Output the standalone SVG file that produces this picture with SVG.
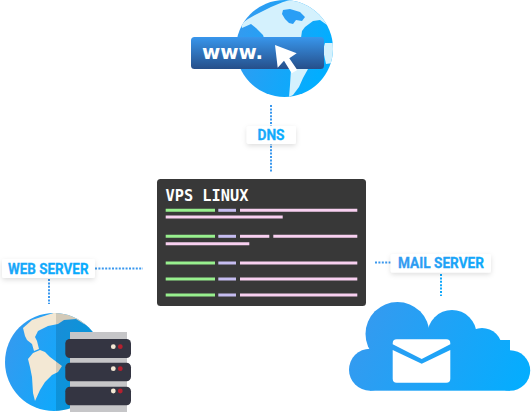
<svg xmlns="http://www.w3.org/2000/svg" width="531" height="412" viewBox="0 0 531 412">
<style>
.dot{fill:none;stroke-width:2;stroke-dasharray:2 1.4}
.lbl{fill:#fff;filter:url(#sh)}
.lt{font-family:"Roboto","Liberation Sans",sans-serif;font-weight:700;font-size:15.500px;stroke-width:.3}
.g{stroke:#98f08e}.b{stroke:#c6bdf0}.p{stroke:#f8d0f0}
.g,.b,.p{stroke-width:3}
</style>
<defs>
<linearGradient id="blu" x1="0" y1="0" x2="1" y2="0.35"><stop offset="0" stop-color="#3a98ee"/><stop offset="1" stop-color="#02aeff"/></linearGradient>
<linearGradient id="cloud" gradientUnits="userSpaceOnUse" x1="349" y1="302" x2="530" y2="391"><stop offset="0" stop-color="#3a98ee"/><stop offset="1" stop-color="#02aeff"/></linearGradient>
<linearGradient id="txt" x1="0" y1="0" x2="1" y2="0"><stop offset="0" stop-color="#1fa6f8"/><stop offset="1" stop-color="#05aeff"/></linearGradient>
<linearGradient id="txt2" x1="0" y1="0" x2="1" y2="0"><stop offset="0" stop-color="#3a98ee"/><stop offset="1" stop-color="#06adff"/></linearGradient>
<linearGradient id="bar" x1="0" y1="0" x2="0" y2="1"><stop offset="0" stop-color="#3896ec"/><stop offset="1" stop-color="#264f8a"/></linearGradient>
<filter id="sh" x="-20%" y="-40%" width="140%" height="200%"><feDropShadow dx="0" dy="2" stdDeviation="2.500" flood-color="#000" flood-opacity="0.13"/></filter>
<clipPath id="c1"><circle cx="284.500" cy="48.500" r="48.500"/></clipPath>
<clipPath id="c2"><circle cx="54" cy="362" r="49"/></clipPath>
</defs>
<g id="connectors">
<path class="dot" stroke="#3a98ee" d="M271 105V172"/>
<path class="dot" stroke="#3a98ee" d="M95 268.500H143"/>
<path class="dot" stroke="#3a98ee" d="M49 279V304"/>
<path class="dot" stroke="#3a98ee" d="M375 262.500H392"/>
<path class="dot" stroke="#10a8fb" d="M441 274V296"/>
</g>
<g id="dns-globe">
<circle cx="284.500" cy="48.500" r="48.500" fill="url(#blu)"/>
<g clip-path="url(#c1)" fill="#d4f1fd">
<path d="M241 24L248 19 255 15 261 12 271 7 283 2 290 0H315L335 14V22L327 25 320 20 313 21 305 27 302 31 301 38H264L263 35 256 28 251 24 242 28Z"/>
<path d="M325 43H340V62L326 64 323 50Z"/>
<path d="M291 69H308L303 78 299 87 293 95 289 97 290 85Z"/>
</g>
<path fill="#2a9ef5" d="M283 10L290 9 300 12 305 17 302 21 296 20 293 24 289 23 285 19 282 14Z"/>
<rect x="191" y="37" width="133" height="32" rx="3.500" fill="url(#bar)"/>
<text x="202" y="59.300" font-family="'DejaVu Sans',sans-serif" font-weight="700" font-size="20" fill="#fff" textLength="61" lengthAdjust="spacingAndGlyphs">www.</text>
<path fill="#fff" d="M275 45L296.700 53.300 289.300 58.300 297.300 70 291.700 73.300 284 60.700 277.700 67.700Z"/>
</g>
<g id="dns-label">
<rect class="lbl" x="246.700" y="126" width="49.300" height="18" rx="2"/>
<text class="lt" x="257.500" y="140" fill="url(#txt)" stroke="#10a8fb" textLength="27" lengthAdjust="spacingAndGlyphs">DNS</text>
</g>
<g id="vps">
<rect x="157" y="179" width="209" height="127" rx="3.500" fill="#383838"/>
<text x="165.500" y="200.500" font-family="'DejaVu Sans Mono',monospace" font-weight="700" font-size="15.300" fill="#fff">VPS LINUX</text>
<g id="code">
<line class="g" x1="165.700" y1="210.300" x2="215" y2="210.300"/><line class="b" x1="218.300" y1="210.300" x2="236" y2="210.300"/><line class="p" x1="240" y1="210.300" x2="357.300" y2="210.300"/>
<line class="p" x1="165.700" y1="217" x2="282.700" y2="217"/>
<line class="g" x1="165.700" y1="236.300" x2="215" y2="236.300"/><line class="b" x1="218.300" y1="236.300" x2="236" y2="236.300"/><line class="p" x1="240" y1="236.300" x2="269.300" y2="236.300"/><line class="p" x1="273.300" y1="236.300" x2="357.300" y2="236.300"/>
<line class="p" x1="165.700" y1="243.700" x2="249.300" y2="243.700"/>
<line class="g" x1="165.700" y1="263" x2="215" y2="263"/><line class="b" x1="218.300" y1="263" x2="236" y2="263"/><line class="p" x1="240" y1="263" x2="357.300" y2="263"/>
<line class="g" x1="165.700" y1="279" x2="215" y2="279"/><line class="b" x1="218.300" y1="279" x2="236" y2="279"/><line class="p" x1="240" y1="279" x2="357.300" y2="279"/>
<line class="g" x1="165.700" y1="295" x2="215" y2="295"/><line class="b" x1="218.300" y1="295" x2="236" y2="295"/><line class="p" x1="240" y1="295" x2="357.300" y2="295"/>
</g>
</g>
<g id="web-label">
<rect class="lbl" x="2" y="259" width="93" height="19" rx="2"/>
<text class="lt" x="8" y="274" fill="url(#txt)" stroke="#10a8fb" textLength="80.500" lengthAdjust="spacingAndGlyphs">WEB SERVER</text>
</g>
<g id="web-server">
<circle cx="54" cy="362" r="49" fill="url(#blu)"/>
<g clip-path="url(#c2)">
<path fill="#f3e8d4" d="M23 328L32 320 47 315 60 311H90V326L84 324 76 319 64 320 58 324 48 326 38 331 35 337 37 341 39 349 34 351 32 344 27 340 25 336Z"/>
<path fill="#f3e8d4" d="M28 359L33 353 40 350 45 352 50 357 62 366 58 372 52 375 45 382 40 390 35 401 33 393 32 377 30 367Z"/>
<path fill="#000" fill-opacity=".13" d="M56 310H110V415H56Z"/>
</g>
<rect x="70" y="332" width="57" height="80" fill="#c6c6c8"/>
<g fill="#343542">
<rect x="65.300" y="339" width="65.700" height="19" rx="4.500"/>
<rect x="65.300" y="362.700" width="65.700" height="18.500" rx="4.500"/>
<rect x="65.300" y="386.700" width="65.700" height="18.500" rx="4.500"/>
</g>
<g fill="#f3e8d4"><circle cx="113.300" cy="346.700" r="2.400"/><circle cx="113.300" cy="368.700" r="2.400"/><circle cx="113.300" cy="391" r="2.400"/></g>
<g fill="#b5202f"><circle cx="120.300" cy="346.700" r="2.400"/><circle cx="120.300" cy="368.700" r="2.400"/><circle cx="120.300" cy="391" r="2.400"/></g>
</g>
<g id="mail-label">
<rect class="lbl" x="390.700" y="254" width="100.300" height="18.500" rx="2"/>
<text class="lt" x="398" y="268" fill="url(#txt2)" stroke="#2aa0f4" textLength="86" lengthAdjust="spacingAndGlyphs">MAIL SERVER</text>
</g>
<g id="mail-cloud">
<g fill="url(#cloud)">
<circle cx="370" cy="369.700" r="21"/><circle cx="510" cy="370.500" r="20.200"/>
<circle cx="397.500" cy="334" r="32"/><circle cx="452" cy="334.500" r="24.500"/><circle cx="482" cy="348" r="20"/>
<rect x="370" y="340" width="140" height="50.700"/>
</g>
<path fill="#fff" d="M396.700 339.300H446.300Q450.300 339.300 450.300 343.300V344.300L421.700 359 392.700 344.300V343.300Q392.700 339.300 396.700 339.300ZM392.700 350L421.700 363.700 450.300 350V378.700Q450.300 382.700 446.300 382.700H396.700Q392.700 382.700 392.700 378.700Z"/>
</g>
</svg>
